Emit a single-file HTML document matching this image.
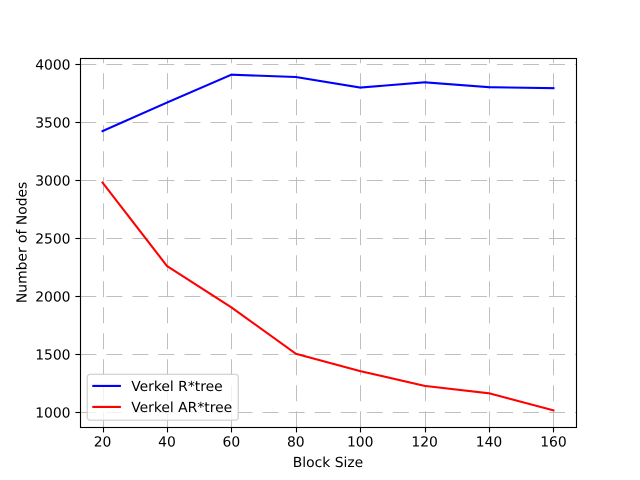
<!DOCTYPE html>
<html>
<head>
<meta charset="utf-8">
<style>
html,body{margin:0;padding:0;background:#fff;}
svg{display:block;}
text{font-family:"DejaVu Sans","Liberation Sans",sans-serif;font-size:13.89px;fill:#000;text-rendering:geometricPrecision;}
</style>
</head>
<body>
<svg id="chart" xmlns="http://www.w3.org/2000/svg" width="640" height="480" viewBox="0 0 640 480">
  <rect x="0" y="0" width="640" height="480" fill="#fff"/>
  <g id="grid"></g>
  <g id="series"></g>
  <rect x="80.5" y="58.5" width="496" height="369" fill="none" stroke="#000" stroke-width="1.11"/>
  <g id="ticks"></g>
  <text x="328" y="467" text-anchor="middle">Block Size</text>
  <text x="0" y="0" text-anchor="middle" transform="translate(26.5 242.4) rotate(-90)">Number of Nodes</text>
  <g>
    <rect x="87.3" y="374.3" width="151" height="45.9" rx="2.8" fill="#fff" fill-opacity="0.8" stroke="#ccc" stroke-opacity="0.8" stroke-width="1.39"/>
    <line x1="92.3" y1="385.9" x2="120.9" y2="385.9" stroke="#0000ff" stroke-width="2.08"/>
    <text x="131.2" y="391">Verkel R*tree</text>
    <line x1="92.3" y1="406.9" x2="120.9" y2="406.9" stroke="#ff0000" stroke-width="2.08"/>
    <text x="131.2" y="412">Verkel AR*tree</text>
  </g>
</svg>
<script>
var blockSizes = [20, 40, 60, 80, 100, 120, 140, 160];
var rtreeNodes = [3422, 3668, 3908, 3888, 3797, 3842, 3800, 3792];
var artreeNodes = [2978, 2260, 1903, 1504, 1354, 1227, 1163, 1016];
var xTicks = [20, 40, 60, 80, 100, 120, 140, 160];
var yTicks = [1000, 1500, 2000, 2500, 3000, 3500, 4000];

function xScale(v) { return 102.55 + (v - 20) * (553.45 - 102.55) / 140; }
function yScale(v) { return 412.2 - (v - 1000) * (412.2 - 64) / 3000; }
function snap(p) { return Math.floor(p + 0.5) + 0.5; }

var NS = 'http://www.w3.org/2000/svg';
var gridG = document.getElementById('grid');
var ticksG = document.getElementById('ticks');
var seriesG = document.getElementById('series');

function make(tag, attrs, parent) {
  var el = document.createElementNS(NS, tag);
  for (var k in attrs) { el.setAttribute(k, attrs[k]); }
  parent.appendChild(el);
  return el;
}

xTicks.forEach(function (t) {
  var x = snap(xScale(t));
  var g = make('line', {x1: x, y1: 427.2, x2: x, y2: 58, stroke: '#bfbfbf', 'stroke-width': 1, 'stroke-dasharray': '16 10'}, gridG);
  
  
  var m = make('line', {x1: x, y1: 427.5, x2: x, y2: 432.4, stroke: '#000', 'stroke-width': 1.11}, ticksG);
  
  
  var l = make('text', {x: xScale(t), y: 446.5, 'text-anchor': 'middle'}, ticksG);
  l.textContent = t;
  
  
});

yTicks.forEach(function (t) {
  var y = snap(yScale(t));
  var g = make('line', {x1: 80.3, y1: y, x2: 576, y2: y, stroke: '#bfbfbf', 'stroke-width': 1, 'stroke-dasharray': '16 10.04'}, gridG);
  
  
  var m = make('line', {x1: 80.5, y1: y, x2: 75.4, y2: y, stroke: '#000', 'stroke-width': 1.11}, ticksG);
  
  
  var l = make('text', {x: 70.5, y: yScale(t) + 5.3, 'text-anchor': 'end'}, ticksG);
  l.textContent = t;
  
  
});

function points(values) {
  return values.map(function (v, i) { return xScale(blockSizes[i]) + ',' + yScale(v); }).join(' ');
}

var rtreeLine = make('polyline', {points: points(rtreeNodes), fill: 'none', stroke: '#0000ff', 'stroke-width': 2.08, 'stroke-linejoin': 'round', 'stroke-linecap': 'square'}, seriesG);


var artreeLine = make('polyline', {points: points(artreeNodes), fill: 'none', stroke: '#ff0000', 'stroke-width': 2.08, 'stroke-linejoin': 'round', 'stroke-linecap': 'square'}, seriesG);


</script>
</body>
</html>
